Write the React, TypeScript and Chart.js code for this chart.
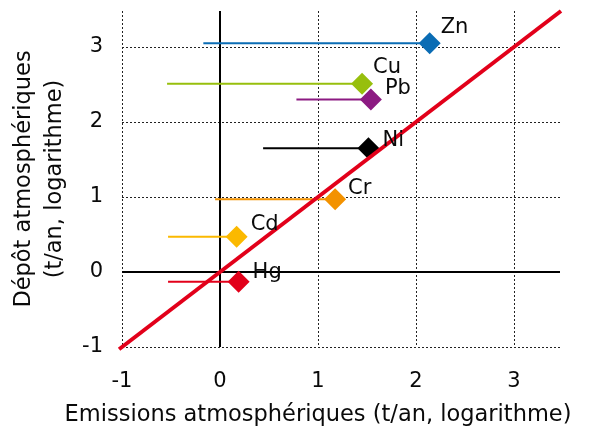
import React, { useEffect, useRef } from "react";
import { Chart, registerables } from "chart.js";

Chart.register(...registerables);

const ELEMENTS = ["Zn", "Cu", "Pb", "Ni", "Cr", "Cd", "Hg"];
const EMISSIONS = [2.14, 1.45, 1.54, 1.515, 1.175, 0.17, 0.19];
const DEPOTS = [3.05, 2.51, 2.3, 1.65, 0.97, 0.47, -0.13];
const RANGE_START = [-0.17, -0.54, 0.78, 0.44, -0.05, -0.53, -0.53];
const COLORS = ["#0a6cb4", "#97bf0d", "#8c1a82", "#000000", "#f39200", "#fbb900", "#e2001a"];
const X_TICKS = [-1, 0, 1, 2, 3];
const Y_TICKS = [-1, 0, 1, 2, 3];
const X_MIN = -1;
const X_MAX = 3.47;
const Y_MIN = -1;
const Y_MAX = 3.48;
const ONE_TO_ONE = [-1.03, 3.48];
const X_TITLE = "Emissions atmosphériques (t/an, logarithme)";
const Y_TITLE = ["Dépôt atmosphériques", "(t/an, logarithme)"];

const LABEL_OFFSETS = [
  [11, -16],
  [11, -16],
  [14, -11],
  [14, -8],
  [13, -11],
  [14, -12],
  [14, -9],
];

const FONT = "'DejaVu Sans'";
const RED = "#e2001a";
const TEXT = "#0a0a0a";

export default function App() {
  const ref = useRef<HTMLCanvasElement | null>(null);

  useEffect(() => {
    document.body.style.margin = "0";
    const canvas = ref.current;
    if (!canvas) return;

    const gridPlugin = {
      id: "customGrid",
      beforeDatasetsDraw(chart: any) {
        const { ctx, chartArea, scales } = chart;
        const xs = scales.x;
        const ys = scales.y;
        ctx.save();
        ctx.strokeStyle = "#222";
        ctx.lineWidth = 1;
        ctx.setLineDash([2, 2]);
        ctx.beginPath();
        X_TICKS.forEach((v) => {
          if (v === 0) return;
          const px = Math.round(xs.getPixelForValue(v)) + 0.5;
          ctx.moveTo(px, chartArea.top);
          ctx.lineTo(px, chartArea.bottom);
        });
        Y_TICKS.forEach((v) => {
          if (v === 0) return;
          const py = Math.round(ys.getPixelForValue(v)) + 0.5;
          ctx.moveTo(chartArea.left, py);
          ctx.lineTo(chartArea.right, py);
        });
        ctx.stroke();
        ctx.setLineDash([]);
        ctx.lineWidth = 2;
        ctx.strokeStyle = "#000";
        ctx.beginPath();
        const x0 = Math.round(xs.getPixelForValue(0));
        ctx.moveTo(x0, chartArea.top);
        ctx.lineTo(x0, chartArea.bottom);
        const y0 = Math.round(ys.getPixelForValue(0));
        ctx.moveTo(chartArea.left, y0);
        ctx.lineTo(chartArea.right, y0);
        ctx.stroke();
        ctx.restore();
      },
      afterDatasetsDraw(chart: any) {
        const { ctx, scales } = chart;
        ctx.save();
        ctx.fillStyle = TEXT;
        ctx.font = `21px ${FONT}`;
        ctx.textAlign = "left";
        ctx.textBaseline = "middle";
        ELEMENTS.forEach((name, i) => {
          const px = scales.x.getPixelForValue(EMISSIONS[i]);
          const py = scales.y.getPixelForValue(DEPOTS[i]);
          ctx.fillText(name, px + LABEL_OFFSETS[i][0], py + LABEL_OFFSETS[i][1]);
        });
        ctx.restore();
      },
      afterDraw(chart: any) {
        const { ctx, chartArea } = chart;
        ctx.save();
        ctx.fillStyle = TEXT;
        ctx.font = `22.5px ${FONT}`;
        ctx.textAlign = "center";
        ctx.textBaseline = "middle";
        ctx.fillText(X_TITLE, 318, 415);
        const cy = (chartArea.top + chartArea.bottom) / 2;
        ctx.translate(40, cy);
        ctx.rotate(-Math.PI / 2);
        ctx.fillText(Y_TITLE[0], 0, -16);
        ctx.fillText(Y_TITLE[1], 0, 15);
        ctx.restore();
      },
    };

    const segments = ELEMENTS.map((name, i) => ({
      type: "line" as const,
      label: name,
      data: [
        { x: RANGE_START[i], y: DEPOTS[i] },
        { x: EMISSIONS[i], y: DEPOTS[i] },
      ],
      borderColor: COLORS[i],
      borderWidth: 2,
      pointRadius: 0,
      fill: false,
      order: 3,
    }));

    const chart = new Chart(canvas, {
      type: "scatter",
      data: {
        datasets: [
          {
            type: "line",
            label: "1:1",
            data: ONE_TO_ONE.map((v) => ({ x: v, y: v })),
            borderColor: RED,
            borderWidth: 4,
            pointRadius: 0,
            fill: false,
            order: 0,
            clip: false as any,
          },
          {
            type: "scatter",
            label: "points",
            data: ELEMENTS.map((_, i) => ({ x: EMISSIONS[i], y: DEPOTS[i] })),
            pointStyle: "rectRot",
            pointRadius: 11,
            pointBackgroundColor: COLORS,
            pointBorderWidth: 0,
            borderWidth: 0,
            order: 1,
            clip: false as any,
          },
          ...segments,
        ] as any,
      },
      options: {
        responsive: false,
        animation: false,
        events: [],
        layout: { padding: { top: 10, right: 30, left: 0, bottom: 0 } },
        plugins: { legend: { display: false }, tooltip: { enabled: false } },
        scales: {
          x: {
            type: "linear",
            min: X_MIN,
            max: X_MAX,
            grid: { display: false, drawTicks: false },
            border: { display: false },
            ticks: { color: TEXT, font: { family: FONT, size: 21 }, padding: 22 },
            afterBuildTicks: (s: any) => {
              s.ticks = X_TICKS.map((v) => ({ value: v }));
            },
            afterFit: (s: any) => {
              s.height = 88;
              s.paddingLeft = 0;
              s.paddingRight = 0;
              s.paddingTop = 0;
              s.paddingBottom = 0;
            },
          },
          y: {
            type: "linear",
            min: Y_MIN,
            max: Y_MAX,
            grid: { display: false, drawTicks: false },
            border: { display: false },
            ticks: { color: TEXT, font: { family: FONT, size: 21 }, padding: 19 },
            afterBuildTicks: (s: any) => {
              s.ticks = Y_TICKS.map((v) => ({ value: v }));
            },
            afterFit: (s: any) => {
              s.width = 122;
              s.paddingLeft = 0;
              s.paddingRight = 0;
              s.paddingTop = 0;
              s.paddingBottom = 0;
            },
          },
        },
      },
      plugins: [gridPlugin],
    });

    return () => chart.destroy();
  }, []);

  return <canvas ref={ref} width={590} height={435} style={{ display: "block" }} />;
}
